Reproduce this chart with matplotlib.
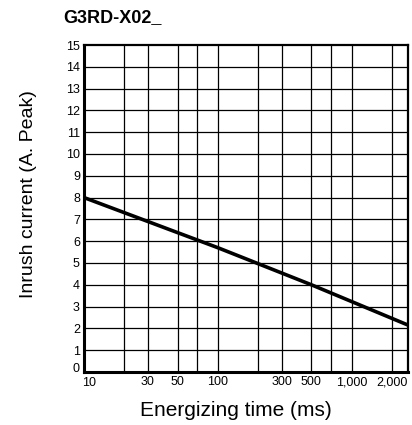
"""
G3RD-X02_ inrush current vs energizing time
"""
import matplotlib
matplotlib.use('Agg')
import matplotlib.pyplot as plt
import matplotlib.transforms as mtransforms
from matplotlib.ticker import FixedLocator, NullLocator

plt.rcParams['font.family'] = ['Liberation Sans', 'DejaVu Sans']

# curve (log-linear line)
time_ms = [10, 100, 500, 2640]
current_a = [8.0, 5.7, 4.0, 2.15]

# axes / ticks
x_ticks = [10, 30, 50, 100, 300, 500, 1000, 2000]
x_labels = ['10', '30', '50', '100', '300', '500', '1,000', '2,000']
x_grid = [20, 30, 50, 70, 100, 200, 300, 500, 700, 1000, 2000]
y_ticks = list(range(0, 16))

fig = plt.figure(figsize=(4.12, 4.25), dpi=100)
ax = fig.add_axes([0.204, 0.125, 0.786, 0.769])

ax.set_xscale('log')
ax.set_xlim(10, 2640)
ax.set_ylim(0, 15)

for xv in x_grid:
    ax.axvline(xv, color='black', linewidth=0.9, zorder=1)
for yv in y_ticks[1:-1]:
    ax.axhline(yv, color='black', linewidth=0.9, zorder=1)

ax.plot(time_ms, current_a, color='black', linewidth=2.6, zorder=3,
        solid_capstyle='butt')

ax.xaxis.set_major_locator(FixedLocator(x_ticks))
ax.xaxis.set_minor_locator(NullLocator())
ax.set_xticklabels(x_labels)
ax.set_yticks(y_ticks)
ax.tick_params(length=0, labelsize=9, pad=3)

# keep the "0" and "10" corner labels apart, as in the original
ax.get_yticklabels()[0].set_transform(
    ax.get_yticklabels()[0].get_transform()
    + mtransforms.ScaledTranslation(0, 4 / 100, fig.dpi_scale_trans))
ax.get_xticklabels()[0].set_transform(
    ax.get_xticklabels()[0].get_transform()
    + mtransforms.ScaledTranslation(5 / 100, -1 / 100, fig.dpi_scale_trans))

for side in ['left', 'bottom']:
    ax.spines[side].set_linewidth(2.2)
for side in ['top', 'right']:
    ax.spines[side].set_linewidth(1.6)

ax.set_xlabel('Energizing time (ms)', fontsize=15)
ax.xaxis.set_label_coords(0.468, -0.09)
ax.set_ylabel('Inrush current (A. Peak)', fontsize=14)
ax.yaxis.set_label_coords(-0.145, 0.544)
fig.text(63 / 412, 1 - 18 / 425, 'G3RD-X02_', fontsize=13, fontweight='bold',
         ha='left', va='center')

fig.savefig('out.png', dpi=100, facecolor='white')
plt.close(fig)
